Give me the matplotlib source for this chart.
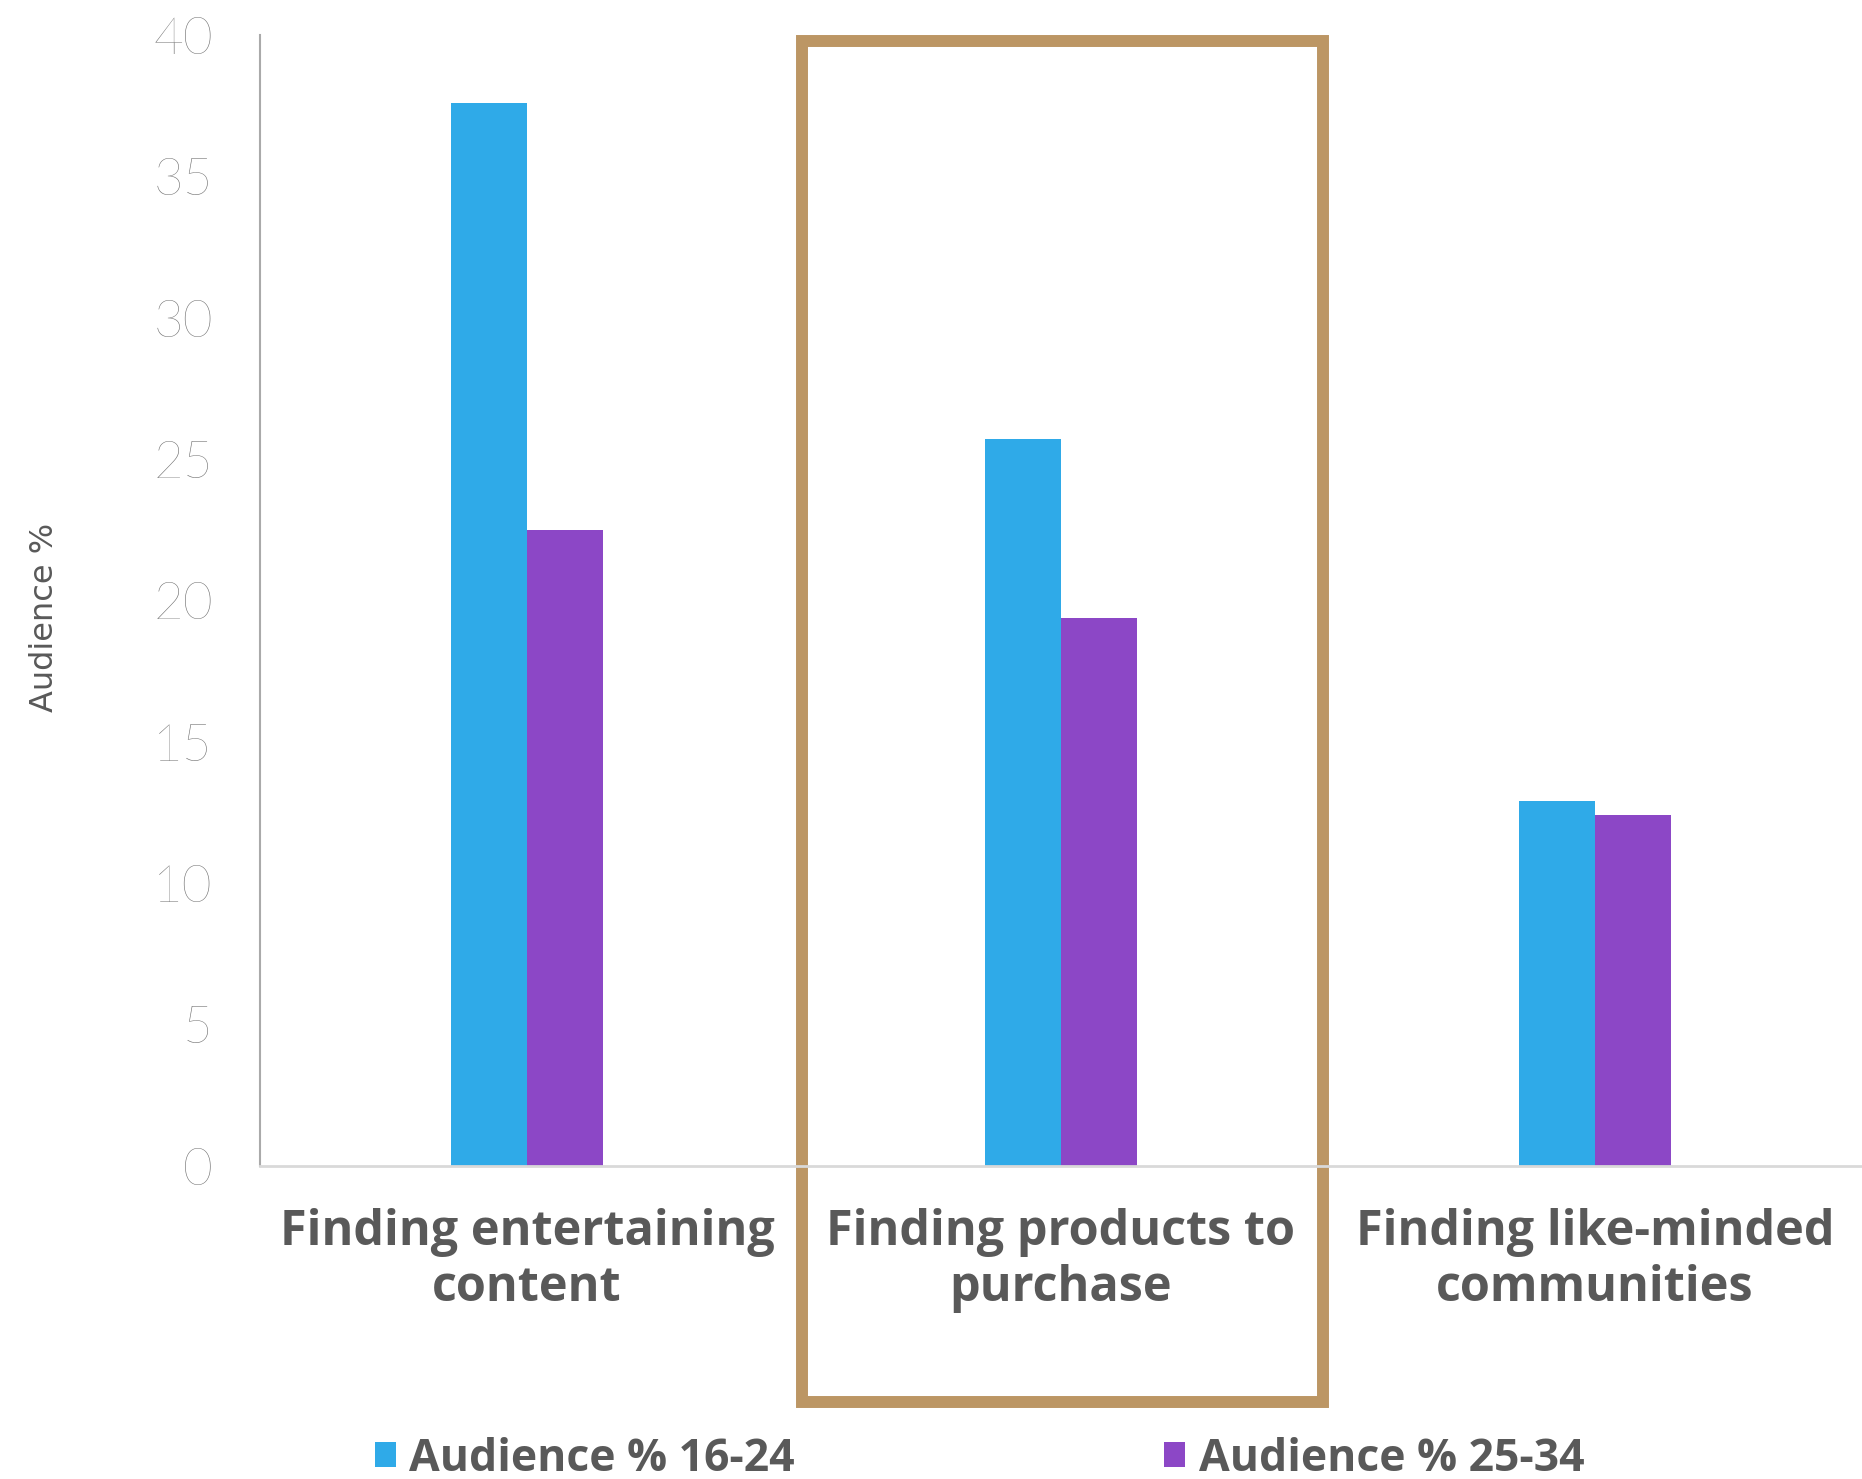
import matplotlib.pyplot as plt
import matplotlib.patches as mpatches
import numpy as np

# ---------------------------------------------------
# DATA
# ---------------------------------------------------
categories = ["Finding entertaining\ncontent",
              "Finding products to\npurchase",
              "Finding like-minded\ncommunities"]
aud_16_24 = [37.6, 25.7, 12.9]
aud_25_34 = [22.5, 19.4, 12.4]
series_names = ["Audience % 16-24", "Audience % 25-34"]
y_ticks = [0, 5, 10, 15, 20, 25, 30, 35, 40]

BLUE = "#2FAAE8"
PURPLE = "#8C47C6"
TAN = "#BC9664"
DARK = "#595959"

# ---------------------------------------------------
# FIGURE
# ---------------------------------------------------
fig = plt.figure(figsize=(18.62, 14.79), dpi=100)
ax = fig.add_axes([0.1396, 0.2116, 0.8604, 0.7647])

x = np.arange(len(categories))
w = 0.142
ax.bar(x - w / 2, aud_16_24, width=w, color=BLUE, label=series_names[0])
ax.bar(x + w / 2, aud_25_34, width=w, color=PURPLE, label=series_names[1])

ax.set_xlim(-0.5, 2.5)
ax.set_ylim(0, 40)
ax.set_yticks(y_ticks)
ax.set_yticklabels([str(v) for v in y_ticks], family="Lato", fontweight="light",
                   fontsize=37, color="#6E6E6E")
ax.set_xticks(x)
ax.set_xticklabels(categories, family="Open Sans", fontweight="bold",
                   fontsize=35, color=DARK, linespacing=1.2)
ax.tick_params(axis="both", length=0)
ax.tick_params(axis="y", pad=34)
ax.tick_params(axis="x", pad=30)

for s in ["top", "right"]:
    ax.spines[s].set_visible(False)
ax.spines["left"].set_color("#AAAAAA")
ax.spines["left"].set_linewidth(1.5)
ax.spines["bottom"].set_color("#D9D9D9")
ax.spines["bottom"].set_linewidth(2)

ax.set_ylabel("Audience %", family="DejaVu Sans", fontsize=23, color=DARK)
ax.yaxis.set_label_coords(-0.125, 0.485)

# highlight box around the middle category
box = mpatches.Rectangle((0.515, -8.35), 0.975, 48.15, fill=False,
                         edgecolor=TAN, linewidth=8.6, clip_on=False,
                         transform=ax.transData)
ax.add_patch(box)

# legend
h, l = ax.get_legend_handles_labels()
fig.legend(h, l, loc="center", bbox_to_anchor=(0.526, 0.0135), ncol=2,
           frameon=False, handlelength=0.48, handleheight=0.48,
           handletextpad=0.3, columnspacing=8.3,
           prop={"family": "Open Sans", "weight": "bold", "size": 32},
           labelcolor=DARK)

fig.savefig("out.png", dpi=100)
